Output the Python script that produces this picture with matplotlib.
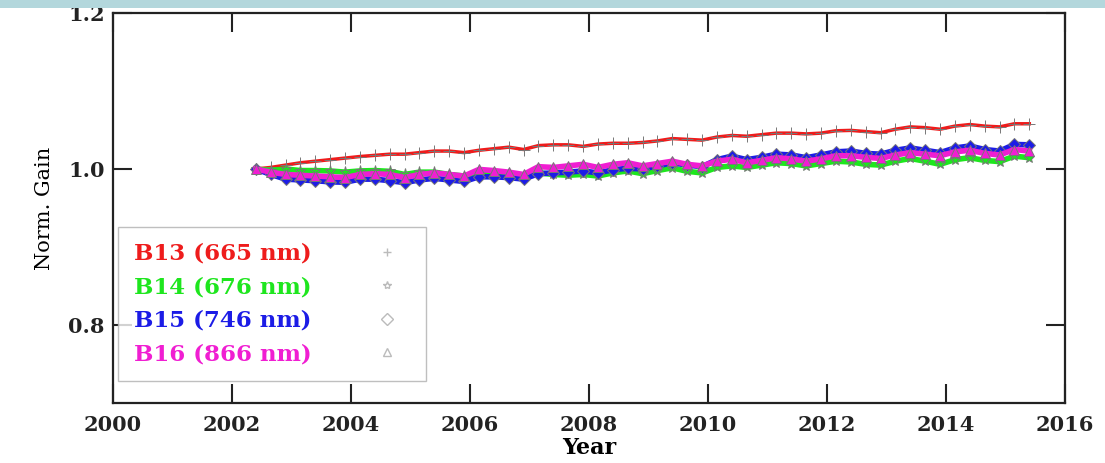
import matplotlib.pyplot as plt
from matplotlib.lines import Line2D
from matplotlib.patches import Rectangle

years = [2002.40, 2002.65, 2002.90,
         2003.15, 2003.40, 2003.65, 2003.90,
         2004.15, 2004.40, 2004.65, 2004.90,
         2005.15, 2005.40, 2005.65, 2005.90,
         2006.15, 2006.40, 2006.65, 2006.90,
         2007.15, 2007.40, 2007.65, 2007.90,
         2008.15, 2008.40, 2008.65, 2008.90,
         2009.15, 2009.40, 2009.65, 2009.90,
         2010.15, 2010.40, 2010.65, 2010.90,
         2011.15, 2011.40, 2011.65, 2011.90,
         2012.15, 2012.40, 2012.65, 2012.90,
         2013.15, 2013.40, 2013.65, 2013.90,
         2014.15, 2014.40, 2014.65, 2014.90,
         2015.15, 2015.40]

b13 = [1.000, 1.002, 1.005,
       1.008, 1.010, 1.012, 1.014,
       1.016, 1.0175, 1.019, 1.019,
       1.021, 1.023, 1.023, 1.021,
       1.024, 1.026, 1.028, 1.025,
       1.030, 1.031, 1.031, 1.029,
       1.032, 1.033, 1.033, 1.034,
       1.036, 1.039, 1.038, 1.037,
       1.041, 1.043, 1.042, 1.044,
       1.046, 1.046, 1.045, 1.046,
       1.049, 1.0495, 1.048, 1.0465,
       1.051, 1.054, 1.053, 1.051,
       1.055, 1.057, 1.055, 1.054,
       1.058, 1.058]

b14 = [1.000, 0.998, 1.000,
       0.998, 0.998, 0.9975, 0.996,
       0.9975, 0.998, 0.997, 0.993,
       0.996, 0.996, 0.993, 0.991,
       0.995, 0.994, 0.993, 0.991,
       0.995, 0.993, 0.992, 0.993,
       0.991, 0.995, 0.9975, 0.994,
       0.998, 1.0015, 0.997, 0.995,
       1.002, 1.004, 1.002, 1.005,
       1.008, 1.007, 1.004, 1.007,
       1.010, 1.009, 1.006, 1.005,
       1.010, 1.0135, 1.010, 1.006,
       1.012, 1.0145, 1.011, 1.0095,
       1.0165, 1.0145]

b15 = [1.000, 0.993, 0.987,
       0.986, 0.985, 0.9835, 0.983,
       0.987, 0.987, 0.985, 0.9825,
       0.986, 0.988, 0.986, 0.984,
       0.990, 0.990, 0.989, 0.987,
       0.994, 0.995, 0.996, 0.9975,
       0.995, 0.999, 1.001, 1.000,
       1.004, 1.008, 1.005, 1.003,
       1.012, 1.0165, 1.012, 1.015,
       1.019, 1.018, 1.0145, 1.018,
       1.022, 1.023, 1.020, 1.019,
       1.024, 1.027, 1.024, 1.021,
       1.027, 1.0295, 1.025, 1.023,
       1.0315, 1.031]

b16 = [1.000, 0.996, 0.993,
       0.992, 0.991, 0.990, 0.989,
       0.993, 0.994, 0.993, 0.989,
       0.993, 0.995, 0.993, 0.991,
       0.9995, 0.998, 0.996, 0.993,
       1.003, 1.002, 1.004, 1.006,
       1.002, 1.006, 1.008, 1.004,
       1.007, 1.010, 1.006, 1.004,
       1.010, 1.0125, 1.008, 1.011,
       1.0145, 1.013, 1.010, 1.013,
       1.017, 1.017, 1.015, 1.0135,
       1.018, 1.021, 1.019, 1.017,
       1.022, 1.024, 1.020, 1.018,
       1.025, 1.023]

labels = ['B13 (665 nm)', 'B14 (676 nm)', 'B15 (746 nm)', 'B16 (866 nm)']
colors = ['#ee1c1c', '#1ee61e', '#1c1ce6', '#f01ed2']
markers = ['+', '*', 'D', '^']
series = [b13, b14, b15, b16]

xticks = [2000, 2002, 2004, 2006, 2008, 2010, 2012, 2014, 2016]
yticks = [0.8, 1.0, 1.2]

fig = plt.figure(figsize=(11.05, 4.63), dpi=100)
ax = fig.add_axes([0.1023, 0.1296, 0.8615, 0.8423])

# bande bleue en haut de la diapo
fig.patches.append(Rectangle((0, 0.982), 1, 0.018, transform=fig.transFigure,
                             facecolor='#b3d7dc', edgecolor='none'))

sizes = [9, 8, 6.5, 7.5]
widths = [2.5, 4, 4, 4]
for vals, c, m, s, w in zip(series, colors, markers, sizes, widths):
    ax.plot(years, vals, color=c, lw=w, marker=m, markersize=s,
            markerfacecolor=c, markeredgecolor='#777777', markeredgewidth=0.7)

ax.set_xlim(2000, 2016)
ax.set_ylim(0.7, 1.2)
ax.set_xticks(xticks)
ax.set_yticks(yticks)
ax.set_yticklabels(['0.8', '1.0', '1.2'])

tickfont = dict(family='DejaVu Serif', weight='bold', size=15)
for lab in ax.get_xticklabels() + ax.get_yticklabels():
    lab.set_fontproperties(tickfont)

ax.tick_params(direction='in', length=14, width=1.5, top=True, right=True,
               pad=6, colors='#222222')
ax.tick_params(axis='x', pad=9)
for sp in ax.spines.values():
    sp.set_linewidth(1.6)
    sp.set_color('#222222')

ax.set_xlabel('Year', fontfamily='DejaVu Serif', fontweight='bold',
              fontsize=16, labelpad=1)
ax.set_ylabel('Norm. Gain', fontfamily='DejaVu Serif', fontsize=15, labelpad=10)

handles = [Line2D([], [], ls='none', marker=m, color='#bbbbbb',
                  markerfacecolor='none', markersize=6) for m in markers]
leg = ax.legend(handles, labels, loc='lower left', bbox_to_anchor=(0.005, 0.056),
                markerfirst=False, labelcolor=colors, fancybox=False,
                prop=dict(family='DejaVu Serif', weight='bold', size=16.5),
                handletextpad=2.3, handlelength=2, labelspacing=0.5,
                borderpad=0.7, borderaxespad=0)
leg.get_frame().set_edgecolor('#b0b0b0')
leg.get_frame().set_linewidth(1.0)

fig.savefig('out.png', dpi=100)
